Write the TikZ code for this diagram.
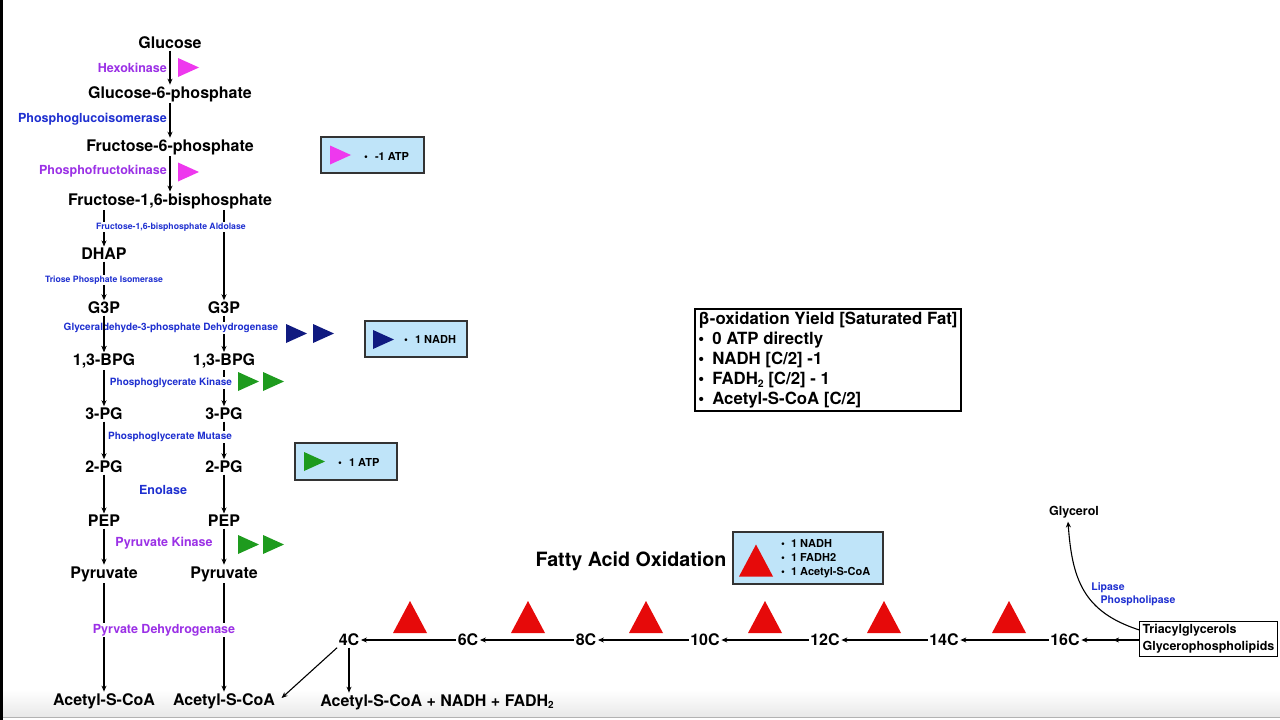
\documentclass[tikz,border=0pt]{standalone}
\usepackage{fontspec}
\setmainfont{TeX Gyre Heros}
\usepackage{tikz}
\usetikzlibrary{arrows.meta,calc,positioning}
\definecolor{purp}{HTML}{9B30E6}
\definecolor{blu}{HTML}{1E2FD0}
\definecolor{mag}{HTML}{EE38EE}
\definecolor{navyt}{HTML}{101A80}
\definecolor{grn}{HTML}{1E9B1E}
\definecolor{fared}{HTML}{E60A0A}
\definecolor{boxblue}{HTML}{BFE4F9}
\definecolor{boxline}{HTML}{333333}
\tikzset{
  met/.style={font=\fontsize{16}{18}\selectfont\bfseries,inner sep=1.5pt},
  enzp/.style={font=\fontsize{12.5}{14}\selectfont\bfseries,text=purp,fill=white,inner sep=1pt},
  enzb/.style={font=\fontsize{12.5}{14}\selectfont\bfseries,text=blu,fill=white,inner sep=1pt},
  enzs/.style={font=\fontsize{10}{12}\selectfont\bfseries,text=blu,fill=white,inner sep=1pt},
  enzxs/.style={font=\fontsize{8.7}{10}\selectfont\bfseries,text=blu,fill=white,inner sep=1pt},
  rxn/.style={-{Stealth[length=6pt,width=5pt]},line width=1.1pt},
  yieldbox/.style={draw=boxline,fill=boxblue,line width=1.2pt,inner sep=0pt},
  boxtxt/.style={font=\fontsize{11}{14}\selectfont\bfseries,align=left,inner sep=0pt},
  lipidtxt/.style={font=\fontsize{12.5}{17}\selectfont\bfseries}
}
\newcommand\tright[3]{\fill[#1] (#2,#3-9.5) -- ++(21,9.5) -- ++(-21,9.5) -- cycle;}
\newcommand\tup[3]{\fill[#1] (#2-17,#3+16) -- (#2,#3-16) -- (#2+17,#3+16) -- cycle;}
\newcommand\subtwo{\raisebox{-0.3ex}{\scalebox{0.62}{2}}}

\begin{document}
\begin{tikzpicture}[x=1pt,y=-1pt]
  \useasboundingbox (0,0) rectangle (1280,720);
  % screen edges
  \shade[top color=white,bottom color=black!9] (0,690) rectangle (1280,717);
  \draw[black!30] (0,717.5) -- (1280,717.5);
  \fill[black] (0,0) rectangle (2.5,720);

  % glycolysis
  \node[met] (glc) at (170,43) {Glucose};
  \node[met] (g6p) at (170,94) {Glucose-6-phosphate};
  \node[met] (f6p) at (170,147) {Fructose-6-phosphate};
  \node[met] (fbp) at (170,201) {Fructose-1,6-bisphosphate};
  \node[met] (dhap) at (104,254) {DHAP};
  \node[met] (g3pL) at (104,308) {G3P};   \node[met] (g3pR) at (224,308) {G3P};
  \node[met] (bpgL) at (104,361) {1,3-BPG}; \node[met] (bpgR) at (224,361) {1,3-BPG};
  \node[met] (pg3L) at (104,414) {3-PG};  \node[met] (pg3R) at (224,414) {3-PG};
  \node[met] (pg2L) at (104,467) {2-PG};  \node[met] (pg2R) at (224,467) {2-PG};
  \node[met] (pepL) at (104,521) {PEP};   \node[met] (pepR) at (224,521) {PEP};
  \node[met] (pyrL) at (104,574) {Pyruvate}; \node[met] (pyrR) at (224,574) {Pyruvate};
  \node[met] (acoaL) at (104,701) {Acetyl-S-CoA}; \node[met] (acoaR) at (224,701) {Acetyl-S-CoA};

  \draw[rxn] (glc) -- (g6p);
  \draw[rxn] (g6p) -- (f6p);
  \draw[rxn] (f6p) -- (fbp);
  \draw[rxn] (dhap |- fbp.south) -- (dhap);
  \draw[rxn] (g3pR |- fbp.south) -- (g3pR);
  \draw[rxn] (dhap) -- (g3pL);
  \foreach \a/\b in {g3p/bpg,bpg/pg3,pg3/pg2,pg2/pep,pep/pyr,pyr/acoa}{
    \draw[rxn] (\a L) -- (\b L);
    \draw[rxn] (\a R) -- (\b R);
  }

  \node[enzp,anchor=east] (hk) at (168,68) {Hexokinase};
  \node[enzb,anchor=east] (pgi) at (168,119) {Phosphoglucoisomerase};
  \node[enzp,anchor=east] (pfk) at (168,171) {Phosphofructokinase};
  \node[enzxs] (ald) at (171,227) {Fructose-1,6-bisphosphate Aldolase};
  \node[enzxs] (tpi) at (104,280) {Triose Phosphate Isomerase};
  \node[enzs] (gapdh) at (171,328) {Glyceraldehyde-3-phosphate Dehydrogenase};
  \node[enzs] (pgk) at (171,383) {Phosphoglycerate Kinase};
  \node[enzs] (pgm) at (170,437) {Phosphoglycerate Mutase};
  \node[enzb] (eno) at (163,490) {Enolase};
  \node[enzp] (pk) at (164,543) {Pyruvate Kinase};
  \node[enzp] (pdh) at (164,630) {Pyrvate Dehydrogenase};
  \draw[rxn] (g3pL) -- (bpgL);

  \tright{mag}{178}{67.5}
  \tright{mag}{178}{172}
  \tright{navyt}{286}{333.5} \tright{navyt}{313}{333.5}
  \tright{grn}{238}{381.5} \tright{grn}{263}{381.5}
  \tright{grn}{238}{544.5} \tright{grn}{263}{544.5}

  % yield boxes
  \node[yieldbox,minimum width=103pt,minimum height=36pt] (atpneg) at (372.5,155) {};
  \tright{mag}{330}{155}
  \node[boxtxt,anchor=west] at (364,156) {\textbullet\hspace{7pt}-1 ATP};
  \node[yieldbox,minimum width=102pt,minimum height=36pt] (nadh) at (416,339) {};
  \tright{navyt}{373}{339.5}
  \node[boxtxt,anchor=west] at (404,339) {\textbullet\hspace{7pt}1 NADH};
  \node[yieldbox,minimum width=102pt,minimum height=37pt] (atppos) at (346,461.5) {};
  \tright{grn}{304}{461.5}
  \node[boxtxt,anchor=west] at (338,462) {\textbullet\hspace{7pt}1 ATP};

  \node[draw,line width=2pt,align=left,inner xsep=3pt,inner ysep=2.5pt,
        font=\fontsize{16.8}{20}\selectfont\bfseries] (yield) at (828,360)
    {β-oxidation Yield [Saturated Fat]\\
     \textbullet\hspace{8pt}0 ATP directly\\
     \textbullet\hspace{8pt}NADH [C/2] -1\\
     \textbullet\hspace{8pt}FADH\subtwo{} [C/2] - 1\\
     \textbullet\hspace{8pt}Acetyl-S-CoA [C/2]};

  % fatty acid oxidation
  \node[font=\fontsize{19.7}{22}\selectfont\bfseries] (fao) at (631,561) {Fatty Acid Oxidation};
  \node[yieldbox,minimum width=150pt,minimum height=52pt] (betabox) at (808,558) {};
  \tup{fared}{756}{560.5}
  \node[boxtxt,anchor=west] at (781,559)
    {\textbullet\hspace{6pt}1 NADH\\ \textbullet\hspace{6pt}1 FADH2\\ \textbullet\hspace{6pt}1 Acetyl-S-CoA};

  \node[met] (c4) at (349,640) {4C};
  \node[met] (c6) at (468,640) {6C};
  \node[met] (c8) at (586,640) {8C};
  \node[met] (c10) at (705,640) {10C};
  \node[met] (c12) at (825,640) {12C};
  \node[met] (c14) at (944,640) {14C};
  \node[met] (c16) at (1065,640) {16C};
  \foreach \a/\b in {c6/c4,c8/c6,c10/c8,c12/c10,c14/c12,c16/c14}
    \draw[rxn] (\a) -- (\b);
  \foreach \x in {410,528,646,765,884,1009}{
    \tup{fared}{\x}{617}
  }

  \node[met] (prod) at (437,702) {Acetyl-S-CoA + NADH + FADH\subtwo};
  \draw[rxn] (c4.south) -- (c4 |- prod.north);
  \draw[rxn] (c4.south west) -- ([xshift=5pt,yshift=3pt]acoaR.east);

  % lipids
  \node[draw,line width=1.2pt,align=left,inner sep=3pt,lipidtxt] (lipid) at (1208.5,639)
    {Triacylglycerols\\Glycerophospholipids};
  \node[lipidtxt] (gly) at (1074,512) {Glycerol};
  \draw[rxn] (lipid.west |- c16) -- (c16);
  \draw[rxn] (lipid.west |- c16) -- ($(lipid.west |- c16)!0.45!(c16.east)$);
  \draw[rxn] ([yshift=-9pt]lipid.north west) to[out=162,in=-86,looseness=1.15] ([xshift=-6pt]gly.south);
  \node[font=\fontsize{10.5}{12}\selectfont\bfseries,text=blu] (lip) at (1108,588) {Lipase};
  \node[font=\fontsize{10.5}{12}\selectfont\bfseries,text=blu] (plip) at (1138,601) {Phospholipase};
\end{tikzpicture}
\end{document}
